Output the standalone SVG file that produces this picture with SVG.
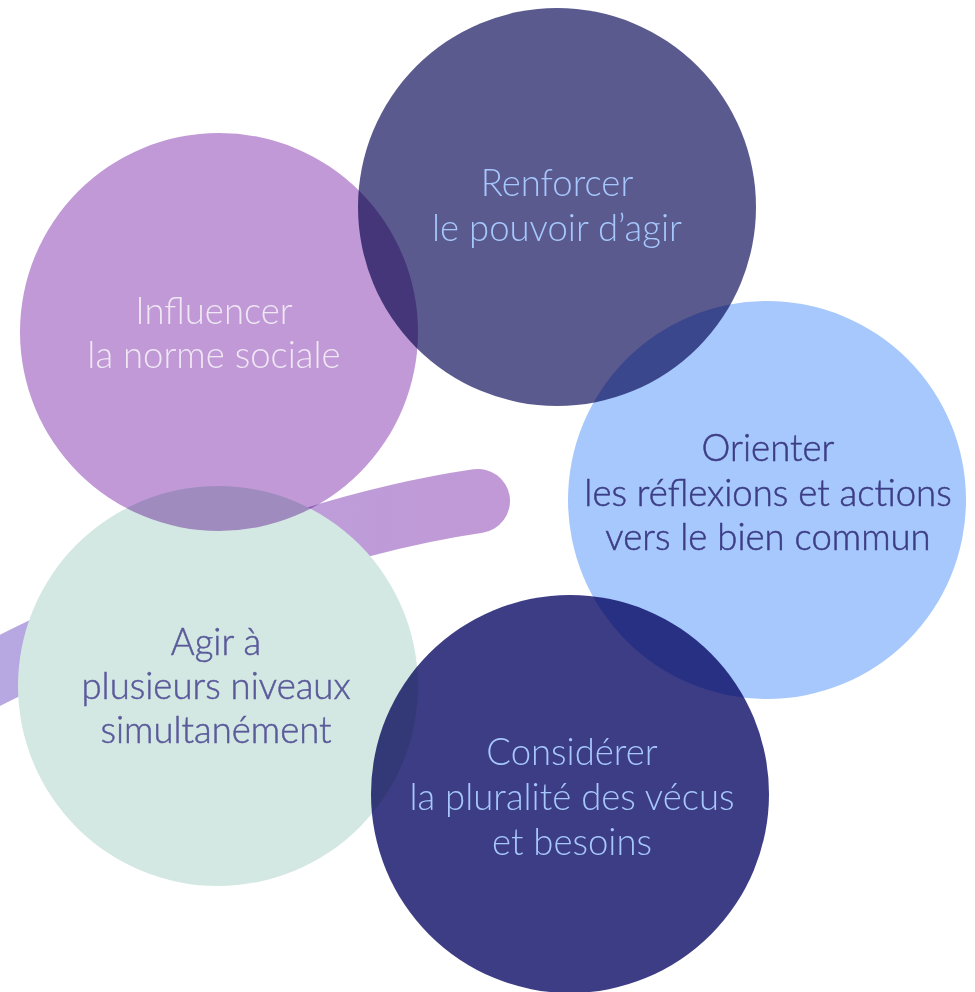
<svg xmlns="http://www.w3.org/2000/svg" width="975" height="992" viewBox="0 0 975 992">
<defs>
<linearGradient id="bandGrad" gradientUnits="userSpaceOnUse" x1="0" y1="0" x2="480" y2="0">
<stop offset="0" stop-color="#B7A8E2"/>
<stop offset="0.45" stop-color="#BCA0DC"/>
<stop offset="1" stop-color="#C099D6"/>
</linearGradient>
</defs>
<style>
.lbl{font-family:Lato,"Open Sans","Liberation Sans",sans-serif;font-size:36.5px;text-anchor:middle;font-weight:300}
.dark{stroke-width:0.5px}
.mult{mix-blend-mode:multiply}
</style>
<rect width="975" height="992" fill="#FFFFFF"/>
<g id="connectors">
<path d="M -80 710 C 100 620, 280 530, 478 501" fill="none" stroke="url(#bandGrad)" stroke-width="64" stroke-linecap="round"/>
</g>
<g id="node-agir">
<circle cx="218" cy="686" r="200" fill="#D4E8E3"/>
<text class="lbl dark" fill="#5A5A9A" stroke="#5A5A9A"><tspan x="216" y="655">Agir à</tspan><tspan x="216" y="699">plusieurs niveaux</tspan><tspan x="216" y="743">simultanément</tspan></text>
</g>
<g id="node-influencer">
<circle class="mult" cx="219" cy="332" r="199" fill="#C099D6"/>
<text class="lbl" fill="#EFE7F4"><tspan x="214" y="324">Influencer</tspan><tspan x="214" y="368">la norme sociale</tspan></text>
</g>
<g id="node-renforcer">
<circle class="mult" cx="557" cy="207" r="199" fill="#5A5A8F"/>
<text class="lbl" fill="#A6C8FC"><tspan x="557" y="196">Renforcer</tspan><tspan x="557" y="241">le pouvoir d’agir</tspan></text>
</g>
<g id="node-orienter">
<circle class="mult" cx="767" cy="500" r="199" fill="#A6C8FC"/>
<text class="lbl dark" fill="#3D3D85" stroke="#3D3D85"><tspan x="768" y="461">Orienter</tspan><tspan x="768" y="506">les réflexions et actions</tspan><tspan x="768" y="550">vers le bien commun</tspan></text>
</g>
<g id="node-considerer">
<circle class="mult" cx="570" cy="794" r="199" fill="#3D3D85"/>
<text class="lbl" fill="#A6C8FC"><tspan x="572" y="765">Considérer</tspan><tspan x="572" y="810">la pluralité des vécus</tspan><tspan x="572" y="855">et besoins</tspan></text>
</g>
</svg>
